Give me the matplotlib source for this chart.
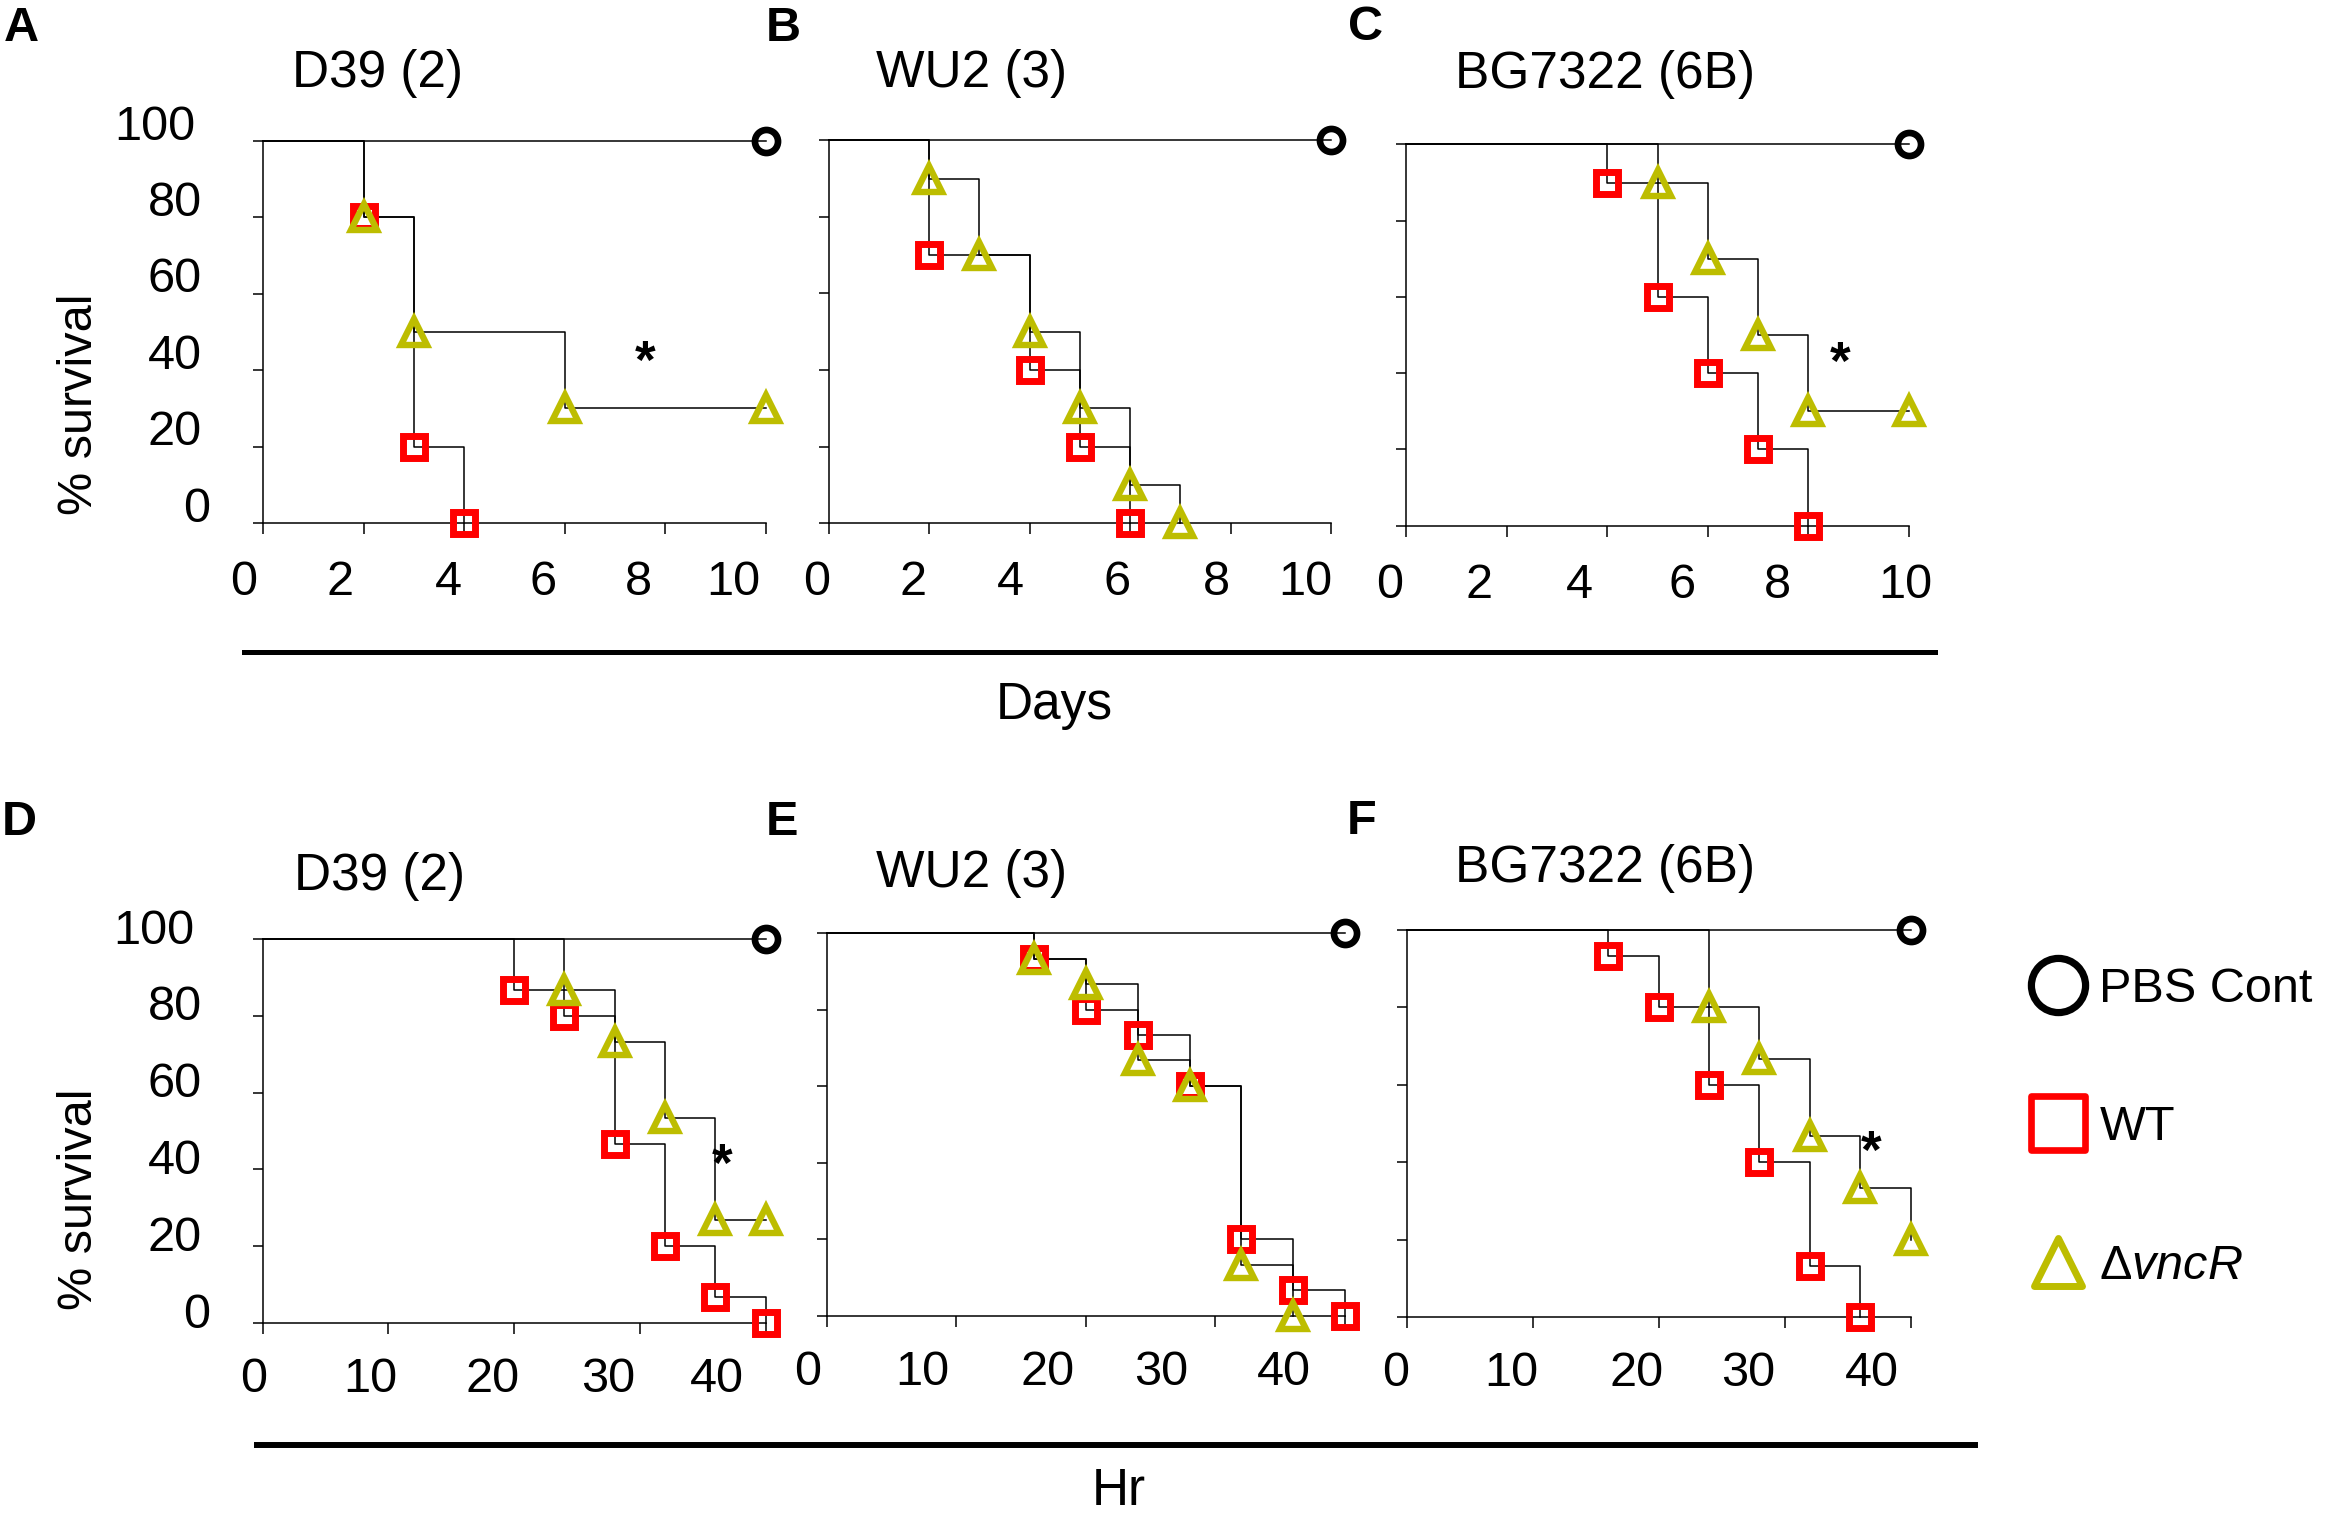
import matplotlib
matplotlib.use('Agg')
import matplotlib.pyplot as plt
from matplotlib.lines import Line2D
from matplotlib.markers import MarkerStyle
from matplotlib.transforms import ScaledTranslation

plt.rcParams['font.family'] = ['Liberation Sans', 'DejaVu Sans']
plt.rcParams['mathtext.fontset'] = 'custom'
plt.rcParams['mathtext.rm'] = 'Liberation Sans'
plt.rcParams['mathtext.it'] = 'Liberation Sans:italic'

W, H, DPI = 2337, 1516, 100

# ---------------- data ----------------
panel_letters = ['A', 'B', 'C', 'D', 'E', 'F']
strain_titles = ['D39 (2)', 'WU2 (3)', 'BG7322 (6B)', 'D39 (2)', 'WU2 (3)', 'BG7322 (6B)']
days_ticks = [0, 2, 4, 6, 8, 10]
hr_ticks = [0, 10, 20, 30, 40]
surv_ticks = [0, 20, 40, 60, 80, 100]
series_labels = ['PBS Cont', 'WT', 'Δ$\\mathit{vncR}$']
axis_units = ['Days', 'Hr']

pbs_end = [10, 10, 10, 40, 40, 40]

# A: D39, days
wt_A_t = [2, 3, 4]
wt_A_s = [80, 20, 0]
dv_A_t = [2, 3, 6, 10]
dv_A_s = [80, 50, 30, 30]
# B: WU2, days
wt_B_t = [2, 4, 5, 6]
wt_B_s = [70, 40, 20, 0]
dv_B_t = [2, 3, 4, 5, 6, 7]
dv_B_s = [90, 70, 50, 30, 10, 0]
# C: BG7322, days
wt_C_t = [4, 5, 6, 7, 8]
wt_C_s = [90, 60, 40, 20, 0]
dv_C_t = [5, 6, 7, 8, 10]
dv_C_s = [90, 70, 50, 30, 30]
# D: D39, hours
wt_D_t = [20, 24, 28, 32, 36, 40]
wt_D_s = [86.7, 80, 46.7, 20, 6.7, 0]
dv_D_t = [24, 28, 32, 36, 40]
dv_D_s = [86.7, 73.3, 53.3, 26.7, 26.7]
# E: WU2, hours
wt_E_t = [16, 20, 24, 28, 32, 36, 40]
wt_E_s = [93.3, 80, 73.3, 60, 20, 6.7, 0]
dv_E_t = [16, 20, 24, 28, 32, 36]
dv_E_s = [93.3, 86.7, 66.7, 60, 13.3, 0]
# F: BG7322, hours
wt_F_t = [16, 20, 24, 28, 32, 36]
wt_F_s = [93.3, 80, 60, 40, 13.3, 0]
dv_F_t = [24, 28, 32, 36, 40]
dv_F_s = [80, 66.7, 46.7, 33.3, 20]

# significance asterisks (panel, x, y)
star_panels = ['A', 'C', 'D', 'F']
star_x = [7.6, 8.63, 36.55, 36.9]
star_y = [46, 46.4, 44.9, 46.3]

wt_t = [wt_A_t, wt_B_t, wt_C_t, wt_D_t, wt_E_t, wt_F_t]
wt_s = [wt_A_s, wt_B_s, wt_C_s, wt_D_s, wt_E_s, wt_F_s]
dv_t = [dv_A_t, dv_B_t, dv_C_t, dv_D_t, dv_E_t, dv_F_t]
dv_s = [dv_A_s, dv_B_s, dv_C_s, dv_D_s, dv_E_s, dv_F_s]

# ---------------- layout (pixels) ----------------
rects = [
    (263, 766, 523, 141),
    (828.5, 1331, 523.4, 140.2),
    (1406, 1909, 525.7, 144.4),
    (262.6, 765.5, 1323, 939),
    (826.7, 1345, 1315.7, 933),
    (1407, 1910.5, 1317, 930),
]
xlab_dx = [
    [-19, -24, -16, -22, -27, -33],
    [-12, -16, -19, -13, -14, -26],
    [-16, -28, -28, -26, -31, -4],
    [-9, -18, -21, -32, -49],
    [-19, -34, -38, -54, -61],
    [-11, -22, -22, -36, -39],
]
xlab_pad = [18.5, 18.5, 18.5, 16.5, 16.5, 16.5]
ylab_dx = [8, 0, 0, 0, 0, -7]
title_pos = [(377, 87.4), (972, 87.4), (1605, 88), (379, 890), (972, 887.4), (1605, 882.4)]
letter_pos = [(21.5, 41.4), (783, 41.4), (1366, 40), (19, 835), (782, 835), (1362, 834.5)]

RED = '#FF0000'
OLIVE = '#BDBD00'
LW = 1.1

fig = plt.figure(figsize=(W / DPI, H / DPI), dpi=DPI)


def px(x, y):
    return x / W, 1 - y / H


axes = []
for i, (x0, x1, yb, yt) in enumerate(rects):
    ax = fig.add_axes([x0 / W, 1 - yb / H, (x1 - x0) / W, (yb - yt) / H])
    axes.append(ax)
    hours = i >= 3
    ticks = hr_ticks if hours else days_ticks
    ax.set_xlim(ticks[0], ticks[-1])
    ax.set_ylim(0, 100)
    for sp in ['top', 'right']:
        ax.spines[sp].set_visible(False)
    for sp in ['left', 'bottom']:
        ax.spines[sp].set_linewidth(LW)
    ax.set_xticks(ticks)
    ax.set_xticklabels([str(t) for t in ticks])
    ax.set_yticks(surv_ticks)
    ax.set_yticklabels([str(t) for t in surv_ticks])
    ax.tick_params(axis='x', direction='out', length=8, width=LW, labelsize=35,
                   pad=xlab_pad[i])
    ax.tick_params(axis='y', direction='out', length=7.2, width=LW, labelsize=35,
                   pad=36.7, labelleft=(i % 3 == 0))
    for lbl, dx in zip(ax.get_xticklabels(), xlab_dx[i]):
        lbl.set_transform(lbl.get_transform() +
                          ScaledTranslation(dx / DPI, 0, fig.dpi_scale_trans))
    if i % 3 == 0:
        dy = 19 if i == 0 else 13
        for lbl, dx in zip(ax.get_yticklabels(), ylab_dx):
            lbl.set_transform(lbl.get_transform() +
                              ScaledTranslation(dx / DPI, dy / DPI, fig.dpi_scale_trans))

    # PBS control
    ax.plot([0, pbs_end[i]], [100, 100], color='black', lw=LW, zorder=2, clip_on=False)
    # survival step lines
    ax.step([0] + wt_t[i], [100] + wt_s[i], where='post', color='black', lw=LW,
            zorder=2, clip_on=False)
    ax.step([0] + dv_t[i], [100] + dv_s[i], where='post', color='black', lw=LW,
            zorder=2, clip_on=False)
    # markers
    ax.plot(wt_t[i], wt_s[i], ls='none', marker='s', ms=16.5, mfc='none', mec=RED,
            mew=5, zorder=3, clip_on=False)
    ax.plot(dv_t[i], dv_s[i], ls='none', marker='^', ms=19, mfc='none', mec=OLIVE,
            mew=4.6, zorder=4, clip_on=False)
    ax.plot([pbs_end[i]], [100], ls='none', marker='o', ms=16.6, mfc='none', mec='black',
            mew=4.8, zorder=5, clip_on=False)

    tx, ty = px(*title_pos[i])
    fig.text(tx, ty, strain_titles[i], fontsize=37, ha='center', va='baseline')
    lx, ly = px(*letter_pos[i])
    fig.text(lx, ly, panel_letters[i], fontsize=35, fontweight='bold', ha='center',
             va='baseline')

for p, sx, sy in zip(star_panels, star_x, star_y):
    ax = axes[panel_letters.index(p)]
    ax.annotate('*', xy=(sx, sy), xytext=(0, -22), textcoords='offset points',
                ha='center', va='baseline', fontsize=38, fontweight='bold', zorder=6)

# y-axis labels
for yc in (404, 1199):
    x, y = px(80, yc)
    fig.text(x, y, '% survival', fontsize=35, rotation=90, ha='center', va='center')

# Days / Hr bars and labels
for (xa, xb, yl, lw), (tx, tyb), lab in zip([(244, 1935, 652, 3.6), (257, 1975, 1445, 4.3)],
                                            [(1054, 719), (1119, 1505)], axis_units):
    (fx0, fy), (fx1, _) = px(xa, yl), px(xb, yl)
    fig.add_artist(Line2D([fx0, fx1], [fy, fy], color='black', lw=lw,
                          transform=fig.transFigure))
    x, y = px(tx, tyb)
    fig.text(x, y, lab, fontsize=37, ha='center', va='baseline')

# legend
handles = [
    Line2D([], [], ls='none', marker=MarkerStyle('o'), ms=39, mfc='none', mec='black', mew=5.2),
    Line2D([], [], ls='none', marker=MarkerStyle('s', joinstyle='round'), ms=39, mfc='none',
           mec=RED, mew=4.8),
    Line2D([], [], ls='none', marker=MarkerStyle('^', joinstyle='round'), ms=35, mfc='none',
           mec=OLIVE, mew=5),
]
lx, ly = px(2029, 967)
fig.legend(handles, series_labels, loc='upper left', bbox_to_anchor=(lx, ly),
           frameon=False, fontsize=35, handlelength=1.2, handletextpad=0.25,
           labelspacing=1.92, borderpad=0, borderaxespad=0)

fig.savefig('out.png', dpi=DPI)
